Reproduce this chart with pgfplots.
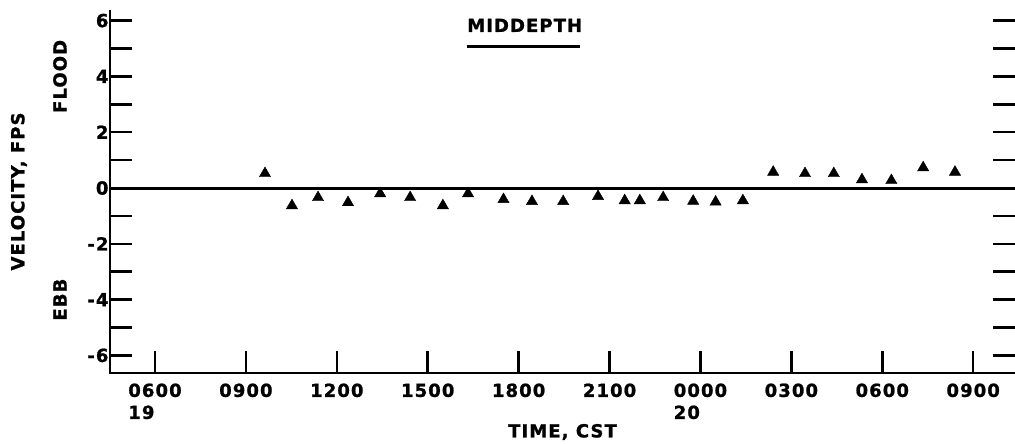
\documentclass[border=0pt]{standalone}
\usepackage{fontspec}
\setmainfont{DejaVu Sans}[LetterSpace=6, BoldFeatures={FakeBold=1.2}]
\usepackage{pgfplots}
\pgfplotsset{compat=1.18}
\begin{document}
\begin{tikzpicture}
\path[use as bounding box] (-110pt,-71pt) rectangle (905pt,373pt);
\begin{axis}[
  at={(0,0)}, anchor=south west,
  scale only axis, width=905pt, height=363pt,
  xmin=4.515, xmax=34.38, ymin=-6.63, ymax=6.38,
  clip=false,
  axis line style={draw=none},
  font=\fontsize{18}{22}\selectfont\bfseries,
  xtick={6,9,...,33},
  xticklabels={{0600\\19},0900,1200,1500,1800,2100,{0000\\20},0300,0600,0900},
  xticklabel style={align=left, anchor=north, yshift=-7pt},
  xtick pos=left,
  ytick={-6,-4,...,6},
  yticklabels={-6,-4,-2,0,2,4,6},
  minor ytick={-5,-3,...,5},
  ytick pos=both,
  yticklabel style={xshift=2pt},
  tick align=inside,
  major tick length=22pt, minor tick length=22pt,
  every tick/.style={black, line width=2.5pt},
  xlabel={TIME, CST},
  xlabel style={at={(axis description cs:0.5,-0.1625)}, anchor=center},
  ylabel={VELOCITY, FPS},
  ylabel style={at={(axis description cs:-0.1006,0.5)}, anchor=center},
]
\draw[line width=2.5pt] (rel axis cs:0,1) -- (rel axis cs:0,0) -- (rel axis cs:1,0);
\addplot[black, line width=3pt] coordinates {(4.515,0) (34.38,0)};
\addplot[only marks, mark=triangle*, mark size=6.5pt, black] coordinates {
(9.63,0.52) (10.52,-0.63) (11.38,-0.34) (12.37,-0.52) (13.43,-0.2)
(14.42,-0.34) (15.5,-0.63) (16.33,-0.2) (17.5,-0.41) (18.44,-0.48)
(19.47,-0.48) (20.62,-0.3) (21.5,-0.45) (22.0,-0.45) (22.77,-0.34)
(23.76,-0.47) (24.5,-0.5) (25.4,-0.45) (26.4,0.57) (27.45,0.52)
(28.4,0.52) (29.33,0.3) (30.3,0.27) (31.35,0.73) (32.4,0.57)
};
\node at (axis cs:18.2,5.83) {MIDDEPTH};
\draw[line width=2.5pt] (axis cs:16.3,5.08) -- (axis cs:20.03,5.08);
\node[rotate=90] at ([xshift=-50pt]axis cs:4.515,4) {FLOOD};
\node[rotate=90] at ([xshift=-50pt]axis cs:4.515,-4) {EBB};
\end{axis}
\end{tikzpicture}
\end{document}
